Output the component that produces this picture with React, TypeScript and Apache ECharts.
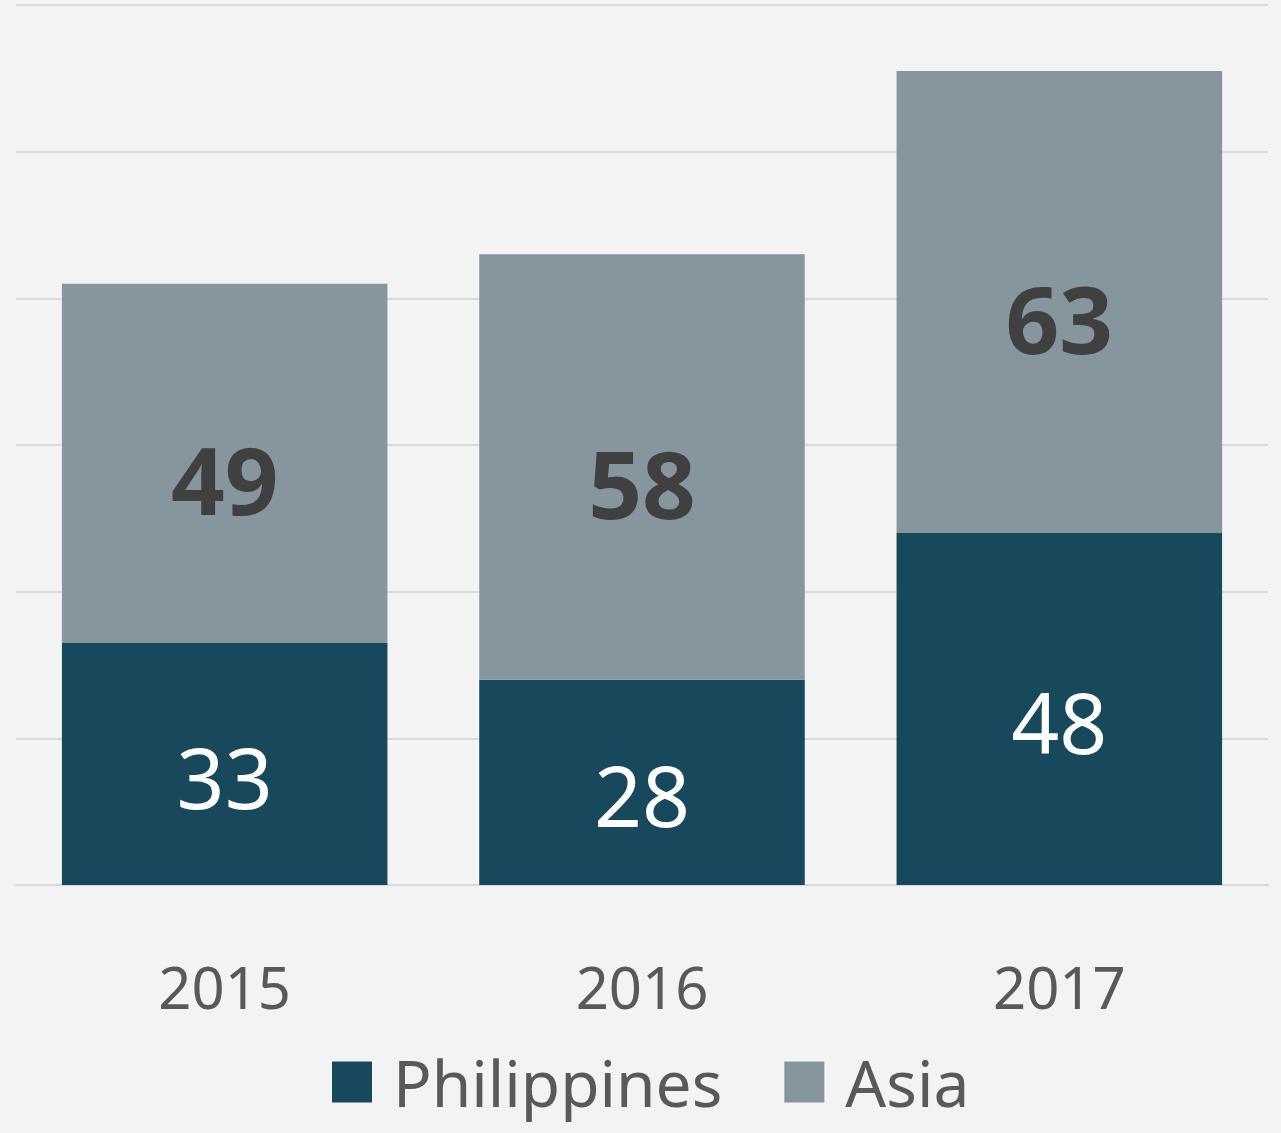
import React, { useEffect, useRef } from "react";
import * as echarts from "echarts";

const categories = ["2015", "2016", "2017"];
const philippines = [33, 28, 48];
const asia = [49, 58, 63];

export default function App() {
  const ref = useRef<HTMLDivElement>(null);
  useEffect(() => {
    document.body.style.margin = "0";
    const chart = echarts.init(ref.current!, null, { renderer: "svg" });
    const font = "'Noto Sans', 'Open Sans', sans-serif";
    chart.setOption({
      animation: false,
      backgroundColor: "#F2F3F2",
      grid: { left: 16, right: 13, top: 5, bottom: 248, containLabel: false },
      xAxis: {
        type: "category",
        data: categories,
        axisLine: { show: true, lineStyle: { color: "#D9D9D9", width: 2 } },
        axisTick: { show: false },
        axisLabel: {
          color: "#595959",
          fontSize: 58,
          fontFamily: font,
          margin: 72,
        },
      },
      yAxis: {
        type: "value",
        min: 0,
        max: 120,
        interval: 20,
        axisLabel: { show: false },
        axisLine: { show: false },
        axisTick: { show: false },
        splitLine: { lineStyle: { color: "#D9D9D9", width: 2 } },
      },
      legend: {
        bottom: 8,
        left: 327,
        itemWidth: 40,
        itemHeight: 41,
        itemGap: 62,
        icon: "rect",
        textStyle: {
          color: "#595959",
          fontSize: 64,
          lineHeight: 76,
          fontFamily: font,
          padding: [0, 0, 0, 16],
        },
        data: ["Philippines", "Asia"],
      },
      series: [
        {
          name: "Philippines",
          type: "bar",
          stack: "total",
          data: philippines,
          barWidth: "78%",
          itemStyle: { color: "#17485C" },
          label: {
            show: true,
            position: "inside",
            offset: [0, 12],
            color: "#FFFFFF",
            fontSize: 84,
            fontFamily: font,
          },
        },
        {
          name: "Asia",
          type: "bar",
          stack: "total",
          data: asia,
          barWidth: "78%",
          itemStyle: { color: "#87959E" },
          label: {
            show: true,
            position: "inside",
            offset: [0, 16],
            color: "#404040",
            fontSize: 94,
            fontWeight: "bold",
            fontFamily: font,
          },
        },
      ],
    });
    return () => chart.dispose();
  }, []);
  return <div ref={ref} style={{ width: 1281, height: 1133 }} />;
}
